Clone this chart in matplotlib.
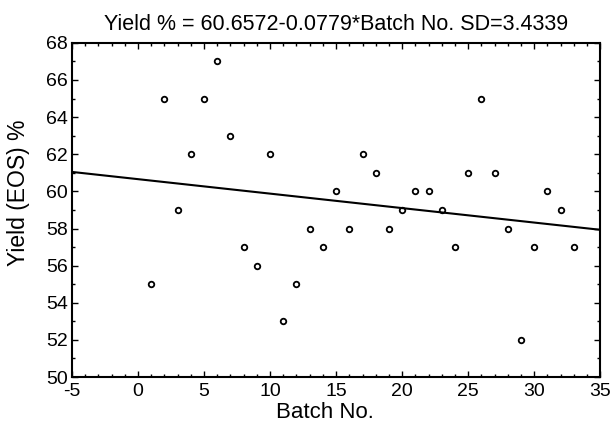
import matplotlib
matplotlib.use("Agg")
import matplotlib.pyplot as plt
import numpy as np
from matplotlib.ticker import MultipleLocator

batch = list(range(1, 34))
yield_pct = [55, 65, 59, 62, 65, 67, 63, 57, 56, 62,
             53, 55, 58, 57, 60, 58, 62, 61, 58, 59,
             60, 60, 59, 57, 61, 65, 61, 58, 52, 57,
             60, 59, 57]
intercept = 60.6572
slope = -0.0779
sd = 3.4339

plt.rcParams['font.family'] = ['Liberation Sans', 'DejaVu Sans']
plt.rcParams['axes.unicode_minus'] = False

fig = plt.figure(figsize=(6.1, 4.28), dpi=100)
ax = fig.add_axes([0.118, 0.119, 0.866, 0.781])

ax.plot(batch, yield_pct, linestyle='none', marker='o', markersize=4,
        markerfacecolor='white', markeredgecolor='black', markeredgewidth=1.3)
xl = np.array([-5, 35])
ax.plot(xl, intercept + slope * xl, color='black', linewidth=1.5)

ax.set_xlim(-5, 35)
ax.set_ylim(50, 68)
ax.xaxis.set_major_locator(MultipleLocator(5))
ax.xaxis.set_minor_locator(MultipleLocator(1))
ax.yaxis.set_major_locator(MultipleLocator(2))
ax.yaxis.set_minor_locator(MultipleLocator(1))
ax.tick_params(which='both', direction='in', top=True, right=True, labelsize=14, width=1)
ax.tick_params(which='major', length=4)
ax.tick_params(axis='x', which='major', pad=4)
ax.tick_params(axis='y', which='major', pad=3)
ax.tick_params(which='minor', length=2)
for s in ax.spines.values():
    s.set_linewidth(1.5)

ax.set_xlabel('Batch No.', fontsize=16)
ax.xaxis.set_label_coords(0.479, -0.075, transform=ax.transAxes)
ax.xaxis.label.set_va('top')
ax.set_ylabel('Yield (EOS) %', fontsize=16.5)
ax.yaxis.set_label_coords(-0.08, 0.551)
ax.set_title(f'Yield % = {intercept:.4f}-{-slope:.4f}*Batch No. SD={sd:.4f}',
             fontsize=15.5, pad=9)

fig.savefig('out.png', dpi=100)
